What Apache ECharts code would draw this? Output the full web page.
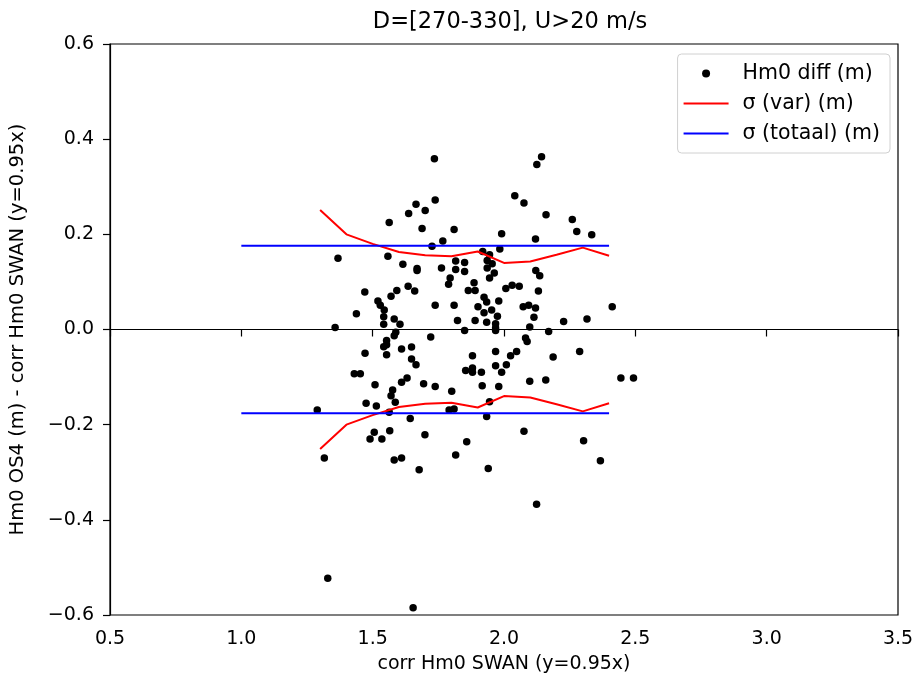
<!DOCTYPE html>
<html>
<head>
<meta charset="utf-8">
<script src="https://cdn.jsdelivr.net/npm/echarts@6/dist/echarts.min.js"></script>
<style>html,body{margin:0;padding:0;background:#fff}#c{width:921px;height:680px}</style>
</head>
<body>
<div id="c"></div>
<script>
// Scatter: corr Hm0 SWAN (x) vs Hm0 diff (y)
var diffX = [1.735,1.738,1.665,1.700,1.637,1.563,1.688,1.810,1.767,1.726,1.368,1.558,1.615,1.669,1.669,1.762,1.816,1.850,1.816,1.850,
1.795,1.789,1.864,1.635,1.660,1.470,1.592,1.570,1.520,1.529,1.544,1.438,1.738,1.810,1.823,1.542,1.582,1.604,1.542,1.357,
1.850,1.588,1.582,1.721,1.553,
2.143,2.125,2.041,2.076,2.160,2.260,2.277,2.334,1.991,2.120,1.984,1.919,1.945,1.936,1.955,1.936,1.963,1.945,2.121,2.136,
1.886,1.890,2.007,2.031,2.058,2.131,1.924,1.934,1.901,1.980,1.953,1.924,2.073,2.094,2.120,1.975,2.114,1.890,1.934,1.968,
1.968,2.098,2.227,2.316,2.412,2.170,2.082,
1.553,1.542,1.610,1.648,1.471,1.553,1.648,1.665,1.880,1.854,1.430,1.453,1.509,1.631,1.610,1.694,1.738,1.801,1.576,1.570,
1.586,1.475,1.514,1.563,1.289,1.791,1.810,1.643,1.565,1.506,1.490,1.535,1.699,1.858,1.316,1.582,1.610,1.816,1.677,
1.968,2.088,1.968,2.048,2.025,2.187,2.288,1.880,1.880,1.914,1.968,2.009,1.991,1.917,1.980,2.098,2.159,2.445,2.493,1.945,
1.934,2.076,2.303,2.367,1.940,2.124,1.329,1.654];
var diffY = [0.359,0.272,0.263,0.250,0.244,0.225,0.212,0.210,0.186,0.175,0.150,0.154,0.137,0.128,0.124,0.129,0.144,0.141,0.126,0.122,
0.108,0.095,0.082,0.091,0.081,0.079,0.082,0.070,0.060,0.051,0.041,0.033,0.051,0.051,0.019,0.027,0.022,0.011,0.011,0.004,
-0.002,-0.006,-0.013,-0.016,-0.023,
0.363,0.347,0.281,0.266,0.241,0.231,0.206,0.199,0.201,0.190,0.169,0.164,0.157,0.145,0.138,0.129,0.119,0.108,0.124,0.113,
0.098,0.082,0.086,0.093,0.091,0.081,0.068,0.058,0.048,0.060,0.041,0.035,0.048,0.051,0.045,0.028,0.026,0.019,0.015,0.012,
0.003,0.005,0.017,0.022,0.048,-0.004,-0.018,
-0.032,-0.036,-0.041,-0.037,-0.050,-0.053,-0.062,-0.074,-0.055,-0.086,-0.093,-0.093,-0.116,-0.102,-0.111,-0.114,-0.120,-0.130,-0.127,-0.139,
-0.153,-0.155,-0.161,-0.174,-0.169,-0.169,-0.167,-0.187,-0.213,-0.216,-0.230,-0.230,-0.221,-0.236,-0.270,-0.274,-0.270,-0.264,-0.295,
-0.002,-0.025,-0.046,-0.046,-0.055,-0.058,-0.046,-0.081,-0.090,-0.090,-0.076,-0.074,-0.090,-0.118,-0.120,-0.109,-0.106,-0.102,-0.102,-0.152,
-0.183,-0.214,-0.234,-0.276,-0.292,-0.367,-0.523,-0.585];

// sigma (var) per bin
var binX = [1.3,1.4,1.5,1.6,1.7,1.8,1.9,2.0,2.1,2.2,2.3,2.4];
var sigmaVar = [0.251,0.200,0.180,0.163,0.156,0.154,0.164,0.140,0.143,0.157,0.172,0.155];

// sigma (totaal)
var totX = [1.0,2.4];
var sigmaTot = 0.176;

// zero reference line
var zeroX = [0.5,3.5];

var names = ['Hm0 diff (m)','σ (var) (m)','σ (totaal) (m)'];

function zip(xs, ys){ return xs.map(function(x,i){ return [x, ys[i]]; }); }
function neg(a){ return a.map(function(v){ return -v; }); }

var FONT = 'DejaVu Sans';
var chart = echarts.init(document.getElementById('c'), null, {renderer:'canvas'});
function fmt(v, d){
  var r = Math.round(v*Math.pow(10,d))/Math.pow(10,d);
  var s = Math.abs(r).toFixed(d);
  return (r < 0 ? '\u2212' : '') + s;
}
var hideSym = {color:'rgba(0,0,0,0)', borderWidth:0, opacity:0};
chart.setOption({
  animation:false,
  backgroundColor:'#fff',
  textStyle:{fontFamily:FONT},
  title:{
    text:'D=[270-330], U>20 m/s',
    left:505, textAlign:'center', top:6,
    textStyle:{fontFamily:FONT,fontSize:22.5,fontWeight:'normal',color:'#000'}
  },
  legend:{
    data:[{name:names[0],icon:'circle'},{name:names[1],itemStyle:hideSym},{name:names[2],itemStyle:hideSym}],
    orient:'vertical', right:31, top:54,
    itemWidth:45, itemHeight:8, itemGap:9,
    padding:[9,10,9,5],
    borderColor:'#d0d0d0', borderWidth:1, borderRadius:4,
    backgroundColor:'rgba(255,255,255,0.8)',
    textStyle:{fontFamily:FONT,fontSize:20.5,color:'#000',lineHeight:21,padding:[0,0,0,9]},
    selectedMode:false
  },
  grid:{left:108,right:23,top:44,bottom:65,show:true,borderColor:'#000',borderWidth:1.2,backgroundColor:'transparent'},
  xAxis:{
    type:'value', min:0.5, max:3.5, interval:0.5,
    name:'corr Hm0 SWAN (y=0.95x)', nameLocation:'middle', nameGap:40,
    nameTextStyle:{fontFamily:FONT,fontSize:19,color:'#000'},
    axisLine:{show:true,lineStyle:{color:'#000',width:1.2}},
    axisTick:{show:true,inside:false,length:7,lineStyle:{color:'#000',width:1.2}},
    axisLabel:{fontFamily:FONT,fontSize:19,color:'#000',margin:15,formatter:function(v){return fmt(v,1);}},
    splitLine:{show:false}
  },
  yAxis:{
    type:'value', min:-0.6, max:0.6, interval:0.2,
    name:'Hm0 OS4 (m) - corr Hm0 SWAN (y=0.95x)', nameLocation:'middle', nameGap:82,
    nameTextStyle:{fontFamily:FONT,fontSize:19.5,color:'#000'},
    axisLine:{show:true,lineStyle:{color:'#000',width:1.2}},
    axisTick:{show:true,inside:false,length:7,lineStyle:{color:'#000',width:1.2}},
    axisLabel:{fontFamily:FONT,fontSize:19,color:'#000',margin:16,formatter:function(v){return fmt(v,1);}},
    splitLine:{show:false}
  },
  series:[
    {name:names[0], type:'scatter', data:zip(diffX,diffY), symbol:'circle', symbolSize:7.5,
     itemStyle:{color:'#000',opacity:1}, z:2},
    {name:names[1], type:'line', data:zip(binX,sigmaVar), symbol:'none', showSymbol:false,
     lineStyle:{color:'#ff0000',width:2}, itemStyle:{color:'#ff0000'}, z:3},
    {name:names[1], type:'line', data:zip(binX,neg(sigmaVar)), symbol:'none', showSymbol:false,
     lineStyle:{color:'#ff0000',width:2}, itemStyle:{color:'#ff0000'}, z:3},
    {name:names[2], type:'line', data:zip(totX,[sigmaTot,sigmaTot]), symbol:'none', showSymbol:false,
     lineStyle:{color:'#0000ff',width:2}, itemStyle:{color:'#0000ff'}, z:4},
    {name:names[2], type:'line', data:zip(totX,[-sigmaTot,-sigmaTot]), symbol:'none', showSymbol:false,
     lineStyle:{color:'#0000ff',width:2}, itemStyle:{color:'#0000ff'}, z:4},
    {name:'zero', type:'line', data:zip(zeroX,[0,0]), symbol:'none', showSymbol:false,
     lineStyle:{color:'#000',width:0.8}, z:5, silent:true}
  ]
});
</script>
</body>
</html>
